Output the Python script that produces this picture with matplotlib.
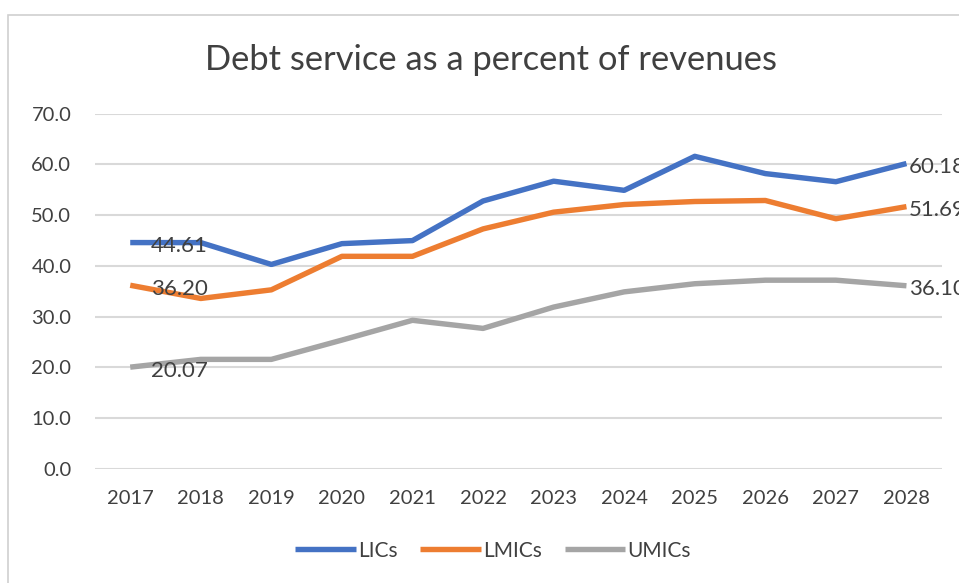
import matplotlib.pyplot as plt
from matplotlib.patches import Rectangle

years = ["2017", "2018", "2019", "2020", "2021", "2022",
         "2023", "2024", "2025", "2026", "2027", "2028"]
lics = [44.61, 44.6, 40.3, 44.4, 45.0, 52.8, 56.7, 54.9, 61.6, 58.2, 56.6, 60.18]
lmics = [36.20, 33.6, 35.3, 41.9, 41.9, 47.3, 50.6, 52.1, 52.7, 52.9, 49.3, 51.69]
umics = [20.07, 21.6, 21.6, 25.4, 29.3, 27.7, 31.9, 34.9, 36.5, 37.2, 37.2, 36.10]
series_names = ["LICs", "LMICs", "UMICs"]
colors = ["#4472C4", "#ED7D31", "#A5A5A5"]

plt.rcParams["font.family"] = ["Lato", "DejaVu Sans"]
text_color = "#404040"

fig = plt.figure(figsize=(9.59, 5.83), dpi=100)
ax = fig.add_axes([0.099, 0.1955, 0.883, 0.6095])

# light border around the chart area
fig.patches.append(Rectangle((8 / 959, -0.1), 1.2, 1 - 15 / 583 + 0.1,
                             transform=fig.transFigure, fill=False,
                             edgecolor="#D0D0D0", linewidth=1.2))

x = list(range(len(years)))
for name, vals, c in zip(series_names, [lics, lmics, umics], colors):
    ax.plot(x, vals, color=c, linewidth=3.9, label=name,
            solid_joinstyle="round", solid_capstyle="butt", zorder=3)
    # value labels on the first and last points
    ax.annotate(f"{vals[0]:.2f}", (x[0], vals[0]), xytext=(15, -2.5),
                textcoords="offset points", ha="left", va="center",
                fontsize=16, color=text_color, zorder=4)
    ax.annotate(f"{vals[-1]:.2f}", (x[-1], vals[-1]), xytext=(1.5, -2.5),
                textcoords="offset points", ha="left", va="center",
                fontsize=16, color=text_color, annotation_clip=False,
                zorder=4)

ax.set_xlim(-0.5, len(years) - 0.5)
ax.set_ylim(0, 70)
ax.set_yticks(range(0, 71, 10))
ax.set_yticklabels([f"{v:.1f}" for v in range(0, 71, 10)])
ax.set_xticks(x)
ax.set_xticklabels(years)
ax.tick_params(length=0, labelsize=14.5, labelcolor=text_color)
ax.tick_params(axis="x", pad=15)
ax.tick_params(axis="y", pad=17)
ax.grid(axis="y", color="#D9D9D9", linewidth=1.5)
ax.set_axisbelow(True)
for s in ax.spines.values():
    s.set_visible(False)

fig.text(0.512, 0.897, "Debt service as a percent of revenues",
         ha="center", va="center", fontsize=24.8, color=text_color)

ax.legend(loc="center", bbox_to_anchor=(0.47, -0.23), ncol=3,
          frameon=False, fontsize=15, handlelength=2.9,
          handletextpad=0.1, columnspacing=1.1, labelcolor=text_color)

fig.savefig("out.png", dpi=100)
